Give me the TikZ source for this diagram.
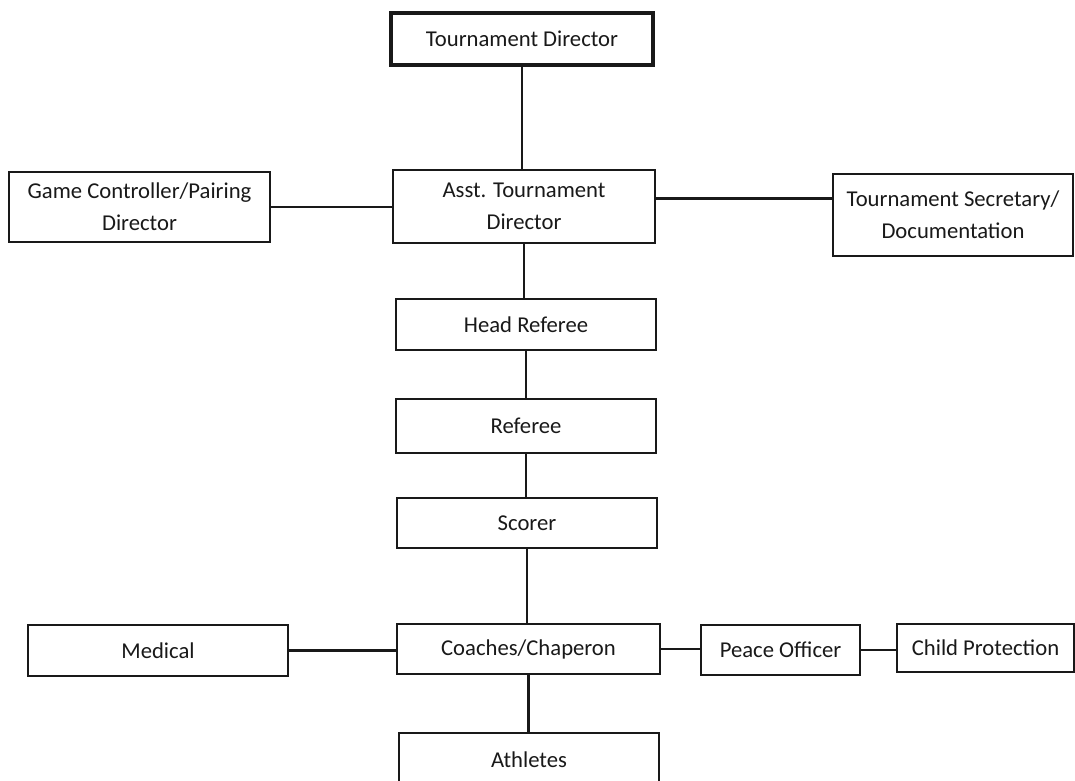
\documentclass[tikz,border=0pt]{standalone}
\usepackage{fontspec}
\setmainfont{Carlito}
\newcommand\orgbox[7][]{%
  \node[box,#1,minimum width={(#4-#3)*0.75pt},minimum height={(#6-#5)*0.75pt}]
    (#2) at ({(#3+#4)/2},{(#5+#6)/2}) {#7};}
\begin{document}
\begin{tikzpicture}[x=0.75pt,y=-0.75pt,
  box/.style={draw=black!90,line width=1.7pt,inner sep=0pt,outer sep=0pt,
    align=center,text=black!90,font=\fontsize{17}{24}\selectfont},
  thick box/.style={line width=2.6pt},
  link/.style={draw=black!90,line width=1.8pt}]
\useasboundingbox (0,0) rectangle (1075,781);
\fill[white] (0,0) rectangle (1075,781);
% boxes: [style] name x1 x2 y1 y2 text
\orgbox[thick box]{td}{391}{653}{13}{65}{Tournament Director}
\orgbox{asst}{393}{655}{170}{243}{Asst. Tournament\\Director}
\orgbox{gc}{9}{270}{172}{242}{Game Controller/Pairing\\Director}
\orgbox{sec}{833}{1073}{174}{256}{Tournament Secretary/\\Documentation}
\orgbox{hr}{396}{656}{299}{350}{Head Referee}
\orgbox{ref}{396}{656}{399}{453}{Referee}
\orgbox{sc}{397}{657}{498}{548}{Scorer}
\orgbox{med}{28}{288}{625}{676}{Medical}
\orgbox{cc}{397}{660}{624}{674}{Coaches/Chaperon}
\orgbox{po}{701}{860}{625}{675}{Peace Officer}
\orgbox{cp}{897}{1074}{624}{672}{Child Protection}
\orgbox{ath}{399}{659}{733}{786}{Athletes}
% connectors
\draw[link] (td.south) -- (td.south |- asst.north);
\draw[link] (gc.east) -- (gc.east -| asst.west);
\draw[link] ([yshift=6pt]asst.east) -- ([yshift=6pt]asst.east -| sec.west);
\draw[link] (asst.south) -- (asst.south |- hr.north);
\draw[link] (hr.south) -- (hr.south |- ref.north);
\draw[link] (ref.south) -- (ref.south |- sc.north);
\draw[link] (sc.south) -- (sc.south |- cc.north);
\draw[link] (med.east) -- (med.east -| cc.west);
\draw[link] (cc.east) -- (cc.east -| po.west);
\draw[link] (po.east) -- (po.east -| cp.west);
\draw[link] (cc.south) -- (cc.south |- ath.north);
\end{tikzpicture}
\end{document}
